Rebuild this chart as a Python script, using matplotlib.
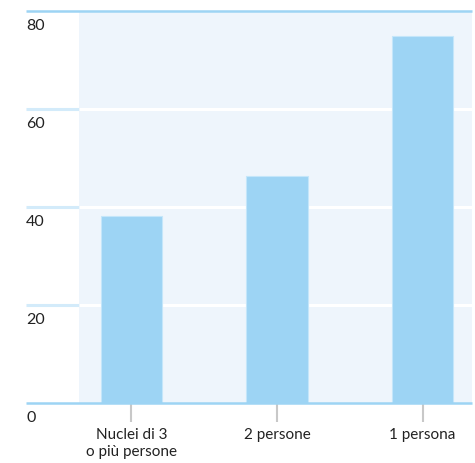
import matplotlib.pyplot as plt
import numpy as np

# dati
categorie = ['Nuclei di 3\no più persone', '2 persone', '1 persona']
valori = [38.2, 46.3, 74.9]
tick_y = [0, 20, 40, 60, 80]

blu_barre = '#9dd4f4'
blu_linea = '#9dd4f4'
sfondo = '#eef5fc'
blu_griglia = '#d3ebfa'

fig = plt.figure(figsize=(4.75, 4.63), dpi=100)
ax = fig.add_axes([26 / 475, (463 - 403) / 463, (472 - 26) / 475, 392 / 463])

x = np.arange(len(categorie))
x_min, x_inizio, x_max = -0.725, -0.36, 2.34
ax.set_xlim(x_min, x_max)
ax.set_ylim(0, 80)

# sfondo dell'area dati
ax.axvspan(x_inizio, x_max, color=sfondo, zorder=0, lw=0)

# griglia: tratto azzurro a sinistra, bianco dentro lo sfondo
for v in tick_y[1:-1]:
    ax.plot([x_min, x_inizio], [v, v], color=blu_griglia, lw=2.2, zorder=1, solid_capstyle='butt')
    ax.plot([x_inizio, x_max], [v, v], color='white', lw=2.2, zorder=1, solid_capstyle='butt')

ax.bar(x, valori, width=0.42, color=blu_barre, edgecolor='#c4e6fa', linewidth=0.8, zorder=2)

# linee di base e in alto
for v in (0, 80):
    ax.plot([x_min, x_max], [v, v], color=blu_linea, lw=1.8, zorder=3,
            clip_on=False, solid_capstyle='butt')

# etichette asse y sotto le linee
for v in tick_y:
    ax.annotate(str(v), xy=(x_min, v), xytext=(0, -6), textcoords='offset points',
                ha='left', va='top', fontsize=11.5, color='#222222', family='Lato')

ax.set_yticks([])
ax.set_xticks(x)
ax.set_xticklabels(categorie, fontsize=11, color='#222222', family='Lato', linespacing=1.25)
ax.tick_params(axis='x', length=14, width=1.5, color='#c8c8c8', pad=4)
for s in ax.spines.values():
    s.set_visible(False)

plt.savefig('out.png', dpi=100)
plt.close()
